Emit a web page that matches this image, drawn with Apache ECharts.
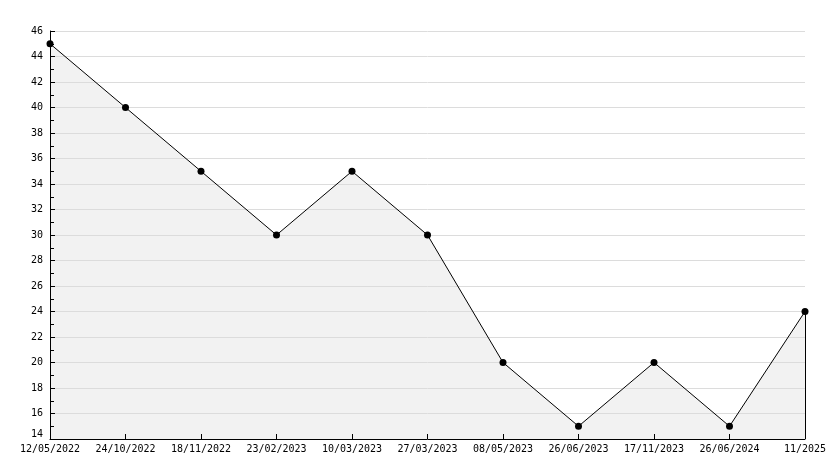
<!DOCTYPE html>
<html><head><meta charset="utf-8">
<script src="https://cdn.jsdelivr.net/npm/echarts@6/dist/echarts.min.js"></script>
<style>html,body{margin:0;padding:0;background:#fff}#c{width:834px;height:468px}</style>
</head><body><div id="c"></div>
<script>
const categories = ['12/05/2022','24/10/2022','18/11/2022','23/02/2023','10/03/2023','27/03/2023','08/05/2023','26/06/2023','17/11/2023','26/06/2024','11/2025'];
const values = [45, 40, 35, 30, 35, 30, 20, 15, 20, 15, 24];
const yMin = 14, yMax = 46, yStep = 2;
const font = 'DejaVu Sans Mono';
const chart = echarts.init(document.getElementById('c'));
const lastCat = categories[categories.length-1];
const lastVal = values[values.length-1];
chart.setOption({
  animation: false,
  grid: {left: 50, right: 29, top: 31, bottom: 29},
  xAxis: {
    type: 'category', data: categories, boundaryGap: false, z: 3,
    axisLine: {lineStyle: {color: '#000', width: 1}},
    axisTick: {inside: true, length: 5, lineStyle: {color: '#000'}},
    axisLabel: {color: '#000', fontFamily: font, fontSize: 10, margin: 5, showMinLabel: true, showMaxLabel: true, interval: 0},
    splitLine: {show: false}
  },
  yAxis: {
    type: 'value', min: yMin, max: yMax, interval: yStep, z: 3,
    axisLine: {show: true, lineStyle: {color: '#000', width: 1}},
    axisTick: {show: true, inside: true, length: 5, lineStyle: {color: '#000'}},
    minorTick: {show: true, splitNumber: 2, length: 4, lineStyle: {color: '#000'}},
    axisLabel: {
      color: '#000', fontFamily: font, fontSize: 10, margin: 7,
      formatter: v => v === yMin ? '{low|' + v + '}' : String(v),
      rich: {low: {fontFamily: font, fontSize: 10, color: '#000', padding: [0, 0, 10, 0]}}
    },
    splitLine: {show: true, lineStyle: {color: '#dcdcdc', width: 1}}
  },
  series: [{
    type: 'line', data: values, z: 1,
    symbol: 'none', silent: true,
    lineStyle: {width: 0, opacity: 0},
    areaStyle: {color: '#f2f2f2', opacity: 1}
  }, {
    type: 'line', data: values, z: 4,
    symbol: 'circle', symbolSize: 7,
    itemStyle: {color: '#000'},
    lineStyle: {color: '#000', width: 1},
    markLine: {
      silent: true, symbol: 'none', label: {show: false},
      lineStyle: {color: '#000', width: 1, type: 'solid'},
      data: [[{coord: [lastCat, yMin]}, {coord: [lastCat, lastVal]}]]
    }
  }]
});
</script></body></html>
